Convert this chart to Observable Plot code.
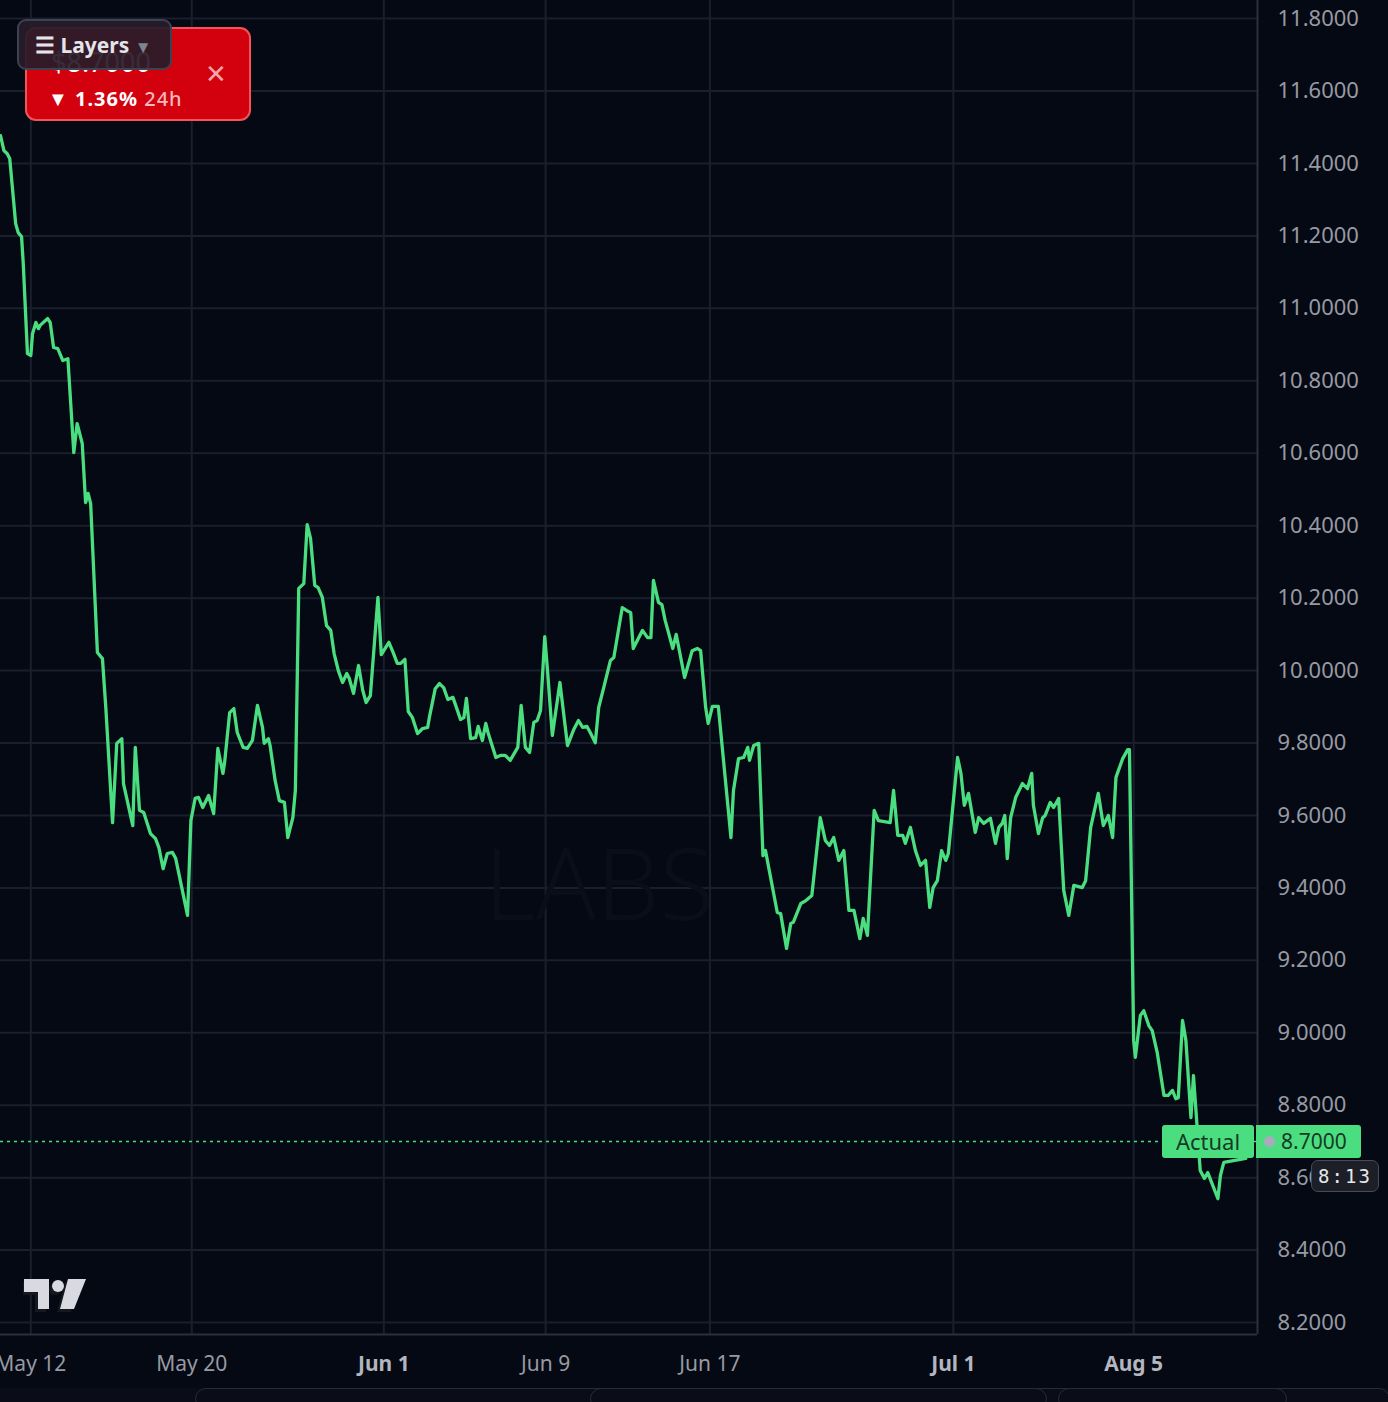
<!DOCTYPE html>
<html><head><meta charset="utf-8">
<script src="https://cdn.jsdelivr.net/npm/d3@7"></script>
<script src="https://cdn.jsdelivr.net/npm/@observablehq/plot@0.6"></script>
<style>
html,body{margin:0;padding:0;background:#050913;}
#wrap{position:relative;width:1388px;height:1402px;overflow:hidden;font-family:"Noto Sans",sans-serif;background:#050913;}
#wrap svg{display:block;}
.ov{position:absolute;box-sizing:border-box;}
</style></head>
<body><div id="wrap"></div>
<script>
// hourly bar index of each vertex (irregular session axis) and close price
const hours = [0,4,8,11,18,21,25,27,32,36,38,42,45,47,56,59,63,68,74,80,87,91,97,101,104,107,115,121,125,133,138,144,146,157,160,165,170,178,184,188,193,198,204,208,222,226,231,235,240,247,253,258,264,266,272,277,281,288,293,299,305,311,313,318,320,326,331,337,341,347,350,354,360,364,368,373,377,382,387,392,396,401,406,411,414,419,425,430,434,439,448,452,461,466,471,475,480,484,489,495,501,507,509,516,521,526,531,537,540,546,550,553,558,564,567,572,576,579,588,594,599,605,614,618,623,628,633,637,641,646,649,655,664,673,680,686,691,696,700,706,710,716,724,728,738,743,748,751,762,768,772,775,781,785,789,798,802,812,821,827,831,837,840,845,852,867,870,876,882,887,889,894,900,905,908,922,926,933,938,941,950,956,963,973,979,984,989,995,1001,1007,1013,1020,1024,1029,1037,1042,1056,1060,1065,1071,1074,1080,1086,1092,1098,1103,1107,1112,1117,1122,1125,1136,1140,1144,1149,1157,1161,1167,1175,1181,1185,1189,1192,1195,1199,1205,1213,1219,1224,1226,1232,1237,1240,1246,1250,1256,1262,1268,1274,1284,1288,1294,1303,1309,1315,1320,1324,1332,1338,1340,1345,1347,1353,1357,1363,1367,1373,1381,1386,1391,1395,1398,1403,1407,1413,1416,1424,1429,1433,1445,1448,1452,1478];
const prices = [11.477,11.436,11.427,11.413,11.234,11.209,11.198,11.124,10.875,10.870,10.930,10.961,10.944,10.953,10.972,10.961,10.892,10.889,10.856,10.861,10.602,10.682,10.627,10.464,10.489,10.461,10.050,10.033,9.898,9.580,9.799,9.812,9.688,9.572,9.788,9.614,9.608,9.550,9.536,9.511,9.453,9.495,9.498,9.481,9.324,9.586,9.647,9.650,9.622,9.655,9.605,9.785,9.716,9.746,9.884,9.895,9.829,9.788,9.785,9.807,9.904,9.843,9.799,9.812,9.793,9.696,9.641,9.636,9.539,9.594,9.669,10.227,10.240,10.403,10.365,10.235,10.229,10.202,10.124,10.111,10.047,10.000,9.967,9.992,9.978,9.937,10.014,9.945,9.912,9.931,10.202,10.044,10.078,10.050,10.020,10.020,10.031,9.887,9.870,9.826,9.840,9.843,9.870,9.950,9.964,9.953,9.920,9.926,9.906,9.865,9.870,9.923,9.812,9.815,9.846,9.807,9.854,9.826,9.760,9.766,9.766,9.752,9.788,9.904,9.788,9.774,9.857,9.862,9.890,10.094,10.009,9.821,9.967,9.793,9.835,9.862,9.843,9.846,9.829,9.801,9.898,9.953,10.028,10.036,10.174,10.166,10.160,10.061,10.111,10.091,10.091,10.249,10.188,10.182,10.138,10.061,10.100,9.981,10.055,10.061,10.055,9.898,9.854,9.901,9.901,9.539,9.669,9.757,9.760,9.788,9.752,9.793,9.799,9.489,9.503,9.332,9.329,9.233,9.302,9.305,9.357,9.365,9.379,9.594,9.531,9.517,9.539,9.476,9.503,9.338,9.338,9.260,9.316,9.269,9.614,9.586,9.580,9.669,9.545,9.545,9.523,9.567,9.503,9.462,9.476,9.346,9.401,9.420,9.503,9.476,9.495,9.760,9.716,9.628,9.661,9.553,9.594,9.578,9.592,9.523,9.567,9.578,9.600,9.481,9.594,9.650,9.688,9.674,9.716,9.628,9.550,9.594,9.600,9.636,9.622,9.647,9.393,9.324,9.407,9.401,9.420,9.567,9.661,9.572,9.600,9.539,9.705,9.757,9.782,9.782,8.979,8.932,9.048,9.061,9.020,9.006,8.945,8.827,8.827,8.841,8.818,8.821,9.034,8.979,8.766,8.882,8.620,8.598,8.614,8.542,8.606,8.642,8.653];
const tickHours = [36,227,455,647,842,1131,1345];
const tickLabels = ["May 12","May 20","Jun 1","Jun 9","Jun 17","Jul 1","Aug 5"];
const boldLabels = ["Jun 1","Jul 1","Aug 5"];
const yTicks = [8.2,8.4,8.6,8.8,9.0,9.2,9.4,9.6,9.8,10.0,10.2,10.4,10.6,10.8,11.0,11.2,11.4,11.6,11.8];
const lastPrice = 8.70;
const change24h = "1.36%";
const countdown = "8:13";
const xDomain = [0,1492];
const yDomain = [8.167,11.850];

const data = hours.map((h,i)=>({h,p:prices[i]}));
const xt = tickHours.map((h,i)=>({h,label:tickLabels[i],bold:boldLabels.includes(tickLabels[i])}));

const green="#4ade80", grid="#1a1f2d", border="#2b303d", txt="#979aa3";
const chart = Plot.plot({
  width:1388,height:1402,marginLeft:0,marginRight:131,marginTop:0,marginBottom:68,
  style:{background:"#050913",color:txt,fontFamily:"Noto Sans, sans-serif",overflow:"visible"},
  x:{domain:xDomain,axis:null},
  y:{domain:yDomain,axis:null},
  marks:[
    Plot.gridY(yTicks,{stroke:grid,strokeOpacity:1,strokeWidth:2}),
    Plot.gridX(tickHours,{stroke:grid,strokeOpacity:1,strokeWidth:2}),
    Plot.text(["LABS"],{frameAnchor:"middle",dx:-30,dy:220,text:d=>d,fontSize:100,fontWeight:300,fill:"#0a0e18",letterSpacing:"38px"}),
    Plot.ruleY([lastPrice],{stroke:green,strokeDasharray:"3,4",strokeWidth:1.6}),
    Plot.line(data,{x:"h",y:"p",stroke:green,strokeWidth:3.3,strokeLinejoin:"round",strokeLinecap:"round"}),
    Plot.ruleX([xDomain[1]],{stroke:border,strokeWidth:2}),
    Plot.ruleY([yDomain[0]],{stroke:border,strokeWidth:2}),
    Plot.axisY(yTicks,{anchor:"right",label:null,tickSize:0,tickPadding:20,tickFormat:d=>d.toFixed(4),textAnchor:"start",fill:txt,fontSize:22}),
    Plot.text(xt.filter(d=>!d.bold),{x:"h",frameAnchor:"bottom",dy:30,text:"label",fill:txt,fontSize:21,lineAnchor:"middle"}),
    Plot.text(xt.filter(d=>d.bold),{x:"h",frameAnchor:"bottom",dy:30,text:"label",fill:"#b3b6be",fontSize:21,fontWeight:700,lineAnchor:"middle"})
  ]
});
const wrap=document.getElementById("wrap");
wrap.appendChild(chart);
const yS=chart.scale("y"), xS=chart.scale("x");
const yp=yS.apply(lastPrice);
const xR=xS.apply(xDomain[1]);

function add(html,css){const d=document.createElement("div");d.className="ov";d.style.cssText=css;d.innerHTML=html;wrap.appendChild(d);return d;}

// price / Actual labels
add("Actual",`left:${xR-95}px;top:${yp-16}px;width:92px;height:33px;background:${green};border-radius:3px;color:#173a25;font-size:22px;line-height:33px;text-align:center;`);
add(`<span style="display:inline-block;width:11px;height:11px;border-radius:50%;background:#a9abba;margin-right:2px;vertical-align:middle;position:relative;top:-2px;left:-4px"></span>${lastPrice.toFixed(4)}`,
  `left:${xR-1}px;top:${yp-16}px;width:105px;height:33px;background:${green};border-radius:0 3px 3px 0;color:#173a25;font-size:21px;line-height:33px;padding-left:12px;`);
add(countdown,`left:${xR+54}px;top:${yp+19}px;width:68px;height:32px;background:#1c1f27;border:1px solid #474b56;border-radius:7px;color:#e6e7ea;font-size:19px;line-height:30px;text-align:center;letter-spacing:2px;font-family:'DejaVu Sans Mono',monospace;`);

// red 24h box
add(`<div style="position:absolute;left:24px;top:14px;color:#ffffff;font-size:27px;">$${lastPrice.toFixed(4)}</div>
<div style="position:absolute;left:178px;top:31px;color:#f2a6ab;font-size:26px;line-height:26px;">✕</div>
<div style="position:absolute;left:21px;top:56px;color:#fff;font-size:20px;font-weight:700;letter-spacing:1px;">▼ ${change24h} <span style="font-weight:500;color:#f6b9bd;">24h</span></div>`,
`left:25px;top:27px;width:226px;height:94px;background:#d3000d;border:2px solid #f2545c;border-radius:11px;overflow:hidden;`);
// Layers button
add(`<span style="font-size:22px;position:relative;top:0px;">☰</span> Layers <span style="color:#7e8490;font-size:17px;">▼</span>`,
`left:17px;top:19px;width:155px;height:51px;background:rgba(40,28,42,0.93);border:2px solid #3c4250;border-radius:9px;color:#e4e4ea;font-size:21px;font-weight:700;line-height:47px;padding-left:16px;`);

// TradingView logo
add(`<svg width="80" height="45" viewBox="0 0 80 45">
<g fill="#15181f" transform="translate(-3,3)"><path d="M1 3h25v30h-11v-17h-14z"/><circle cx="35" cy="10" r="6"/><path d="M45 3h18l-12 30h-14z"/></g>
<g fill="#d9dae1"><path d="M1 3h25v30h-11v-17h-14z"/><circle cx="35" cy="10" r="6"/><path d="M45 3h18l-12 30h-14z"/></g></svg>`,
`left:23px;top:1276px;width:80px;height:45px;`);

// bottom toolbar strip
add(`<div style="position:absolute;left:195px;top:0;width:1090px;height:20px;border:1px solid #262b38;border-radius:12px;"></div>
<div style="position:absolute;left:590px;top:0;width:455px;height:20px;border:1px solid #262b38;border-radius:12px;"></div>
<div style="position:absolute;left:1058px;top:0;width:330px;height:20px;border:1px solid #262b38;border-radius:12px;"></div>`,
`left:0;top:1388px;width:1388px;height:14px;background:#0a0d18;overflow:hidden;`);
</script></body></html>
